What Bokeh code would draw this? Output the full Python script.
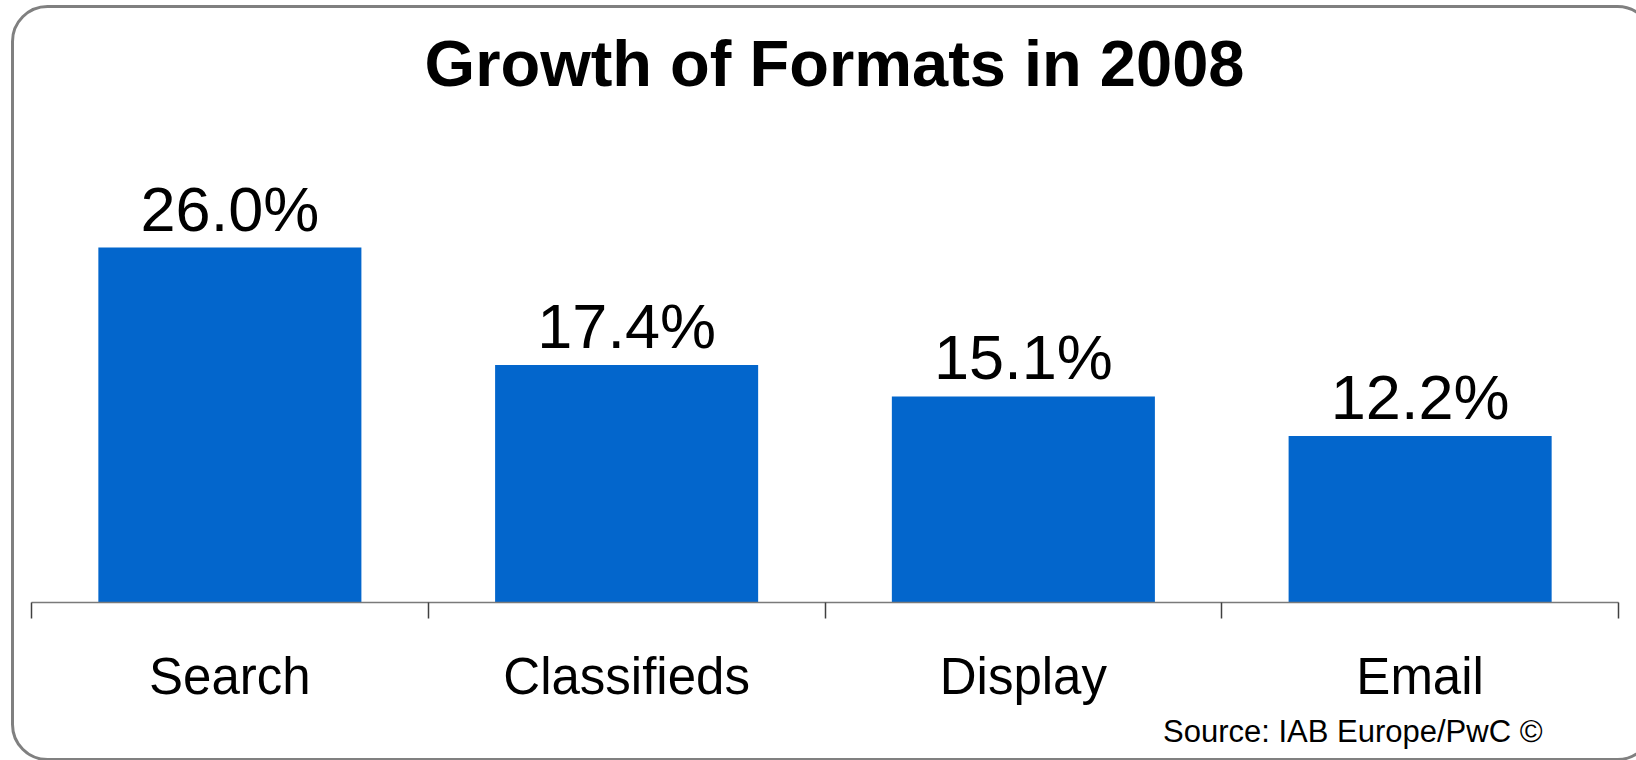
from bokeh.plotting import figure
from bokeh.models import (Range1d, LinearAxis, FixedTicker, Label, BoxAnnotation, ColumnDataSource)
from bokeh.embed import file_html
from bokeh.resources import INLINE
from bokeh.core.properties import value

# ---- data ----
categories = ["Search", "Classifieds", "Display", "Email"]
growth = [26.0, 17.4, 15.1, 12.2]
value_labels = [f"{v:.1f}%" for v in growth]
title_text = "Growth of Formats in 2008"
source_text = "Source: IAB Europe/PwC \u00a9"

FONT = "Liberation Sans"
BAR = "#0366CC"

n = len(categories)
centers = [i + 0.5 for i in range(n)]          # slot centres on the category scale
bounds_ticks = [float(i) for i in range(n + 1)]  # slot boundaries

src = ColumnDataSource(dict(x=centers, val=growth, lab=value_labels))

W, H = 1636, 760
LEFT = 31          # px of first slot boundary
UNIT = 396.75      # px per category slot
PX_PER_PCT = 13.65
AXIS_Y = 602       # px from top where 0 lies

p = figure(width=W, height=H,
           x_range=Range1d(-LEFT / UNIT, n + (W - LEFT - n * UNIT) / UNIT),
           y_range=Range1d(-(H - AXIS_Y) / PX_PER_PCT, AXIS_Y / PX_PER_PCT),
           output_backend="svg", toolbar_location=None,
           x_axis_location=None, y_axis_location=None,
           min_border=0, min_border_left=0, min_border_right=0,
           min_border_top=0, min_border_bottom=0)
p.grid.visible = False
p.outline_line_color = None
p.background_fill_color = "white"
p.border_fill_color = "white"

# rounded frame around the chart
frame = BoxAnnotation(left=12, right=1652, top=6, bottom=759,
                      left_units="canvas", right_units="canvas",
                      top_units="canvas", bottom_units="canvas",
                      fill_color=None, fill_alpha=0,
                      line_color="#808080", line_alpha=1.0, line_width=3,
                      border_radius=35, level="underlay")
p.add_layout(frame)

# bars
p.vbar(x="x", top="val", width=0.663, source=src, fill_color=BAR, line_color=None)

# value labels
p.text(x="x", y="val", text="lab", source=src, text_align="center",
       text_baseline="alphabetic", y_offset=-39, text_font=value(FONT),
       text_font_size="63px", text_color="black")

# category axis: labels at slot centres, ticks at slot boundaries
axis = LinearAxis(ticker=FixedTicker(ticks=centers, minor_ticks=bounds_ticks),
                  fixed_location=0, bounds=(0, n),
                  major_label_overrides={c: name for c, name in zip(centers, categories)},
                  axis_line_color="#7a7a7a", axis_line_width=1.5,
                  major_tick_line_color=None, major_tick_out=0, major_tick_in=0,
                  minor_tick_line_color="#404040", minor_tick_line_width=1.5,
                  minor_tick_out=16, minor_tick_in=0,
                  major_label_text_font=FONT, major_label_text_font_size="51px",
                  major_label_text_color="black", major_label_standoff=29)
p.add_layout(axis, "below")

# title
p.add_layout(Label(x=834, y=697, x_units="screen", y_units="screen", text=title_text,
                   text_font=FONT, text_font_size="65px", text_font_style="bold",
                   text_align="center", text_baseline="alphabetic", text_color="black"))

# source note
p.add_layout(Label(x=1542, y=29, x_units="screen", y_units="screen", text=source_text,
                   text_font=FONT, text_font_size="31px", text_align="right",
                   text_baseline="alphabetic", text_color="black"))

open("out.html", "w").write(file_html(p, INLINE))
